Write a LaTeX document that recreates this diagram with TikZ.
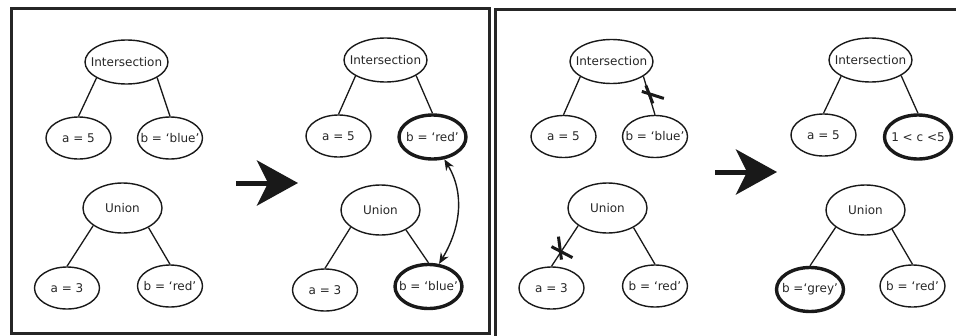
\documentclass[tikz,border=0pt]{standalone}
\usepackage{fontspec}
\newfontfamily\lblfont{DejaVu Sans}
\usetikzlibrary{shapes.geometric}
\usetikzlibrary{arrows.meta}
\newcommand{\ovtext}[1]{\makebox[0pt]{#1}}

\begin{document}
\begin{tikzpicture}[x=1pt,y=-1pt,
  every node/.style={font=\lblfont\fontsize{12}{14}\selectfont,text=black!85},
  opnode/.style={ellipse,draw=black!90,line width=1.4pt,inner sep=0pt,minimum width=83pt,minimum height=44pt},
  unnode/.style={opnode,minimum width=79pt,minimum height=50pt},
  leaf/.style={ellipse,draw=black!90,line width=1.4pt,inner sep=0pt,minimum width=65pt,minimum height=42pt},
  hot/.style={leaf,line width=3.4pt,minimum width=67pt,minimum height=44pt},
  edge/.style={draw=black!90,line width=1.3pt},
  cut/.style={draw=black!90,line width=3pt},
  frame/.style={draw=black!85,line width=3pt},
  bigarrow/.style={draw=black!90,line width=5pt,-{Stealth[length=41pt,width=45pt,inset=11pt]}},
  swap/.style={draw=black!90,line width=1.4pt,{Stealth[length=11pt,width=9pt]}-{Stealth[length=11pt,width=9pt]}}]
  \useasboundingbox (0,0) rectangle (956,335);
  \clip (0,0) rectangle (956,335);

  %frames
  \draw[frame] (11,8.5) rectangle (489,333);
  \draw[frame] (495,9.5) rectangle (975,350);

  %left panel, before
  \node[opnode] (int1) at (126.5,62) {\ovtext{Intersection}};
  \node[leaf] (int1a) at (78.5,138) {\ovtext{a = 5}};
  \node[leaf] (int1b) at (170,138) {\ovtext{b = ‘blue’}};
  \draw[edge] (int1.208) -- (int1a.north);
  \draw[edge] (int1.333) -- (int1b.north);

  \node[unnode] (uni1) at (122.5,208) {\ovtext{Union}};
  \node[leaf] (uni1a) at (67,288) {\ovtext{a = 3}};
  \node[leaf] (uni1b) at (170,286) {\ovtext{b = ‘red’}};
  \draw[edge] (uni1.211) -- (uni1a.north);
  \draw[edge] (uni1.323) -- (uni1b.north);

  %arrow
  \coordinate (go1) at (236,183);
  \coordinate (go1tip) at (298,183);
  \draw[bigarrow] (go1) -- (go1tip);

  %left panel, after
  \node[opnode] (int2) at (385.5,60) {\ovtext{Intersection}};
  \node[leaf] (int2a) at (338.5,136) {\ovtext{a = 5}};
  \node[hot] (int2b) at (432.5,137) {\ovtext{b = ‘red’}};
  \draw[edge] (int2.208) -- (int2a.north);
  \draw[edge] (int2.333) -- (int2b.north);

  \node[unnode] (uni2) at (380.5,210) {\ovtext{Union}};
  \node[leaf] (uni2a) at (325,290) {\ovtext{a = 3}};
  \node[hot] (uni2b) at (428.5,286.5) {\ovtext{b = ‘blue’}};
  \draw[edge] (uni2.210) -- (uni2a.north);
  \draw[edge] (uni2.322) -- (uni2b.north);

  %swap
  \draw[swap] (int2b.-62) .. controls +(21,35) and +(21,-35) .. (uni2b.65);

  %right panel, before
  \node[opnode] (int3) at (611.5,61.5) {\ovtext{Intersection}};
  \node[leaf] (int3a) at (563.5,136.5) {\ovtext{a = 5}};
  \node[leaf] (int3b) at (655,136.5) {\ovtext{b = ‘blue’}};
  \draw[edge] (int3.206) -- (int3a.north);
  \draw[edge] (int3.335) -- coordinate[pos=0.47] (cut1) (int3b.north);
  \draw[cut] ([shift={(-7,-3)}]cut1) -- ([shift={(15,4)}]cut1);
  \draw[cut] ([shift={(-3,-9)}]cut1) -- ([shift={(4,9)}]cut1);

  \node[unnode] (uni3) at (607.5,208) {\ovtext{Union}};
  \node[leaf] (uni3a) at (551.5,288) {\ovtext{a = 3}};
  \node[leaf] (uni3b) at (655,286) {\ovtext{b = ‘red’}};
  \draw[edge] (uni3.211) -- coordinate[pos=0.59] (cut2) (uni3a.north);
  \draw[edge] (uni3.323) -- (uni3b.north);
  \draw[cut] ([shift={(-4,-13)}]cut2) -- ([shift={(-1,10)}]cut2);
  \draw[cut] ([shift={(-11,-3)}]cut2) -- ([shift={(10,8)}]cut2);

  %arrow
  \coordinate (go2) at (715,172);
  \coordinate (go2tip) at (777,172);
  \draw[bigarrow] (go2) -- (go2tip);

  %right panel, after
  \node[opnode] (int4) at (870.5,60) {\ovtext{Intersection}};
  \node[leaf] (int4a) at (823.5,135) {\ovtext{a = 5}};
  \node[hot] (int4b) at (918,137) {\ovtext{1 < c <5}};
  \draw[edge] (int4.209) -- (int4a.north);
  \draw[edge] (int4.333) -- (int4b.north);

  \node[unnode] (uni4) at (865.5,210) {\ovtext{Union}};
  \node[hot] (uni4a) at (810,289.5) {\ovtext{b =‘grey’}};
  \node[leaf] (uni4b) at (912.5,286) {\ovtext{b = ‘red’}};
  \draw[edge] (uni4.210) -- (uni4a.north);
  \draw[edge] (uni4.324) -- (uni4b.north);
\end{tikzpicture}
\end{document}
